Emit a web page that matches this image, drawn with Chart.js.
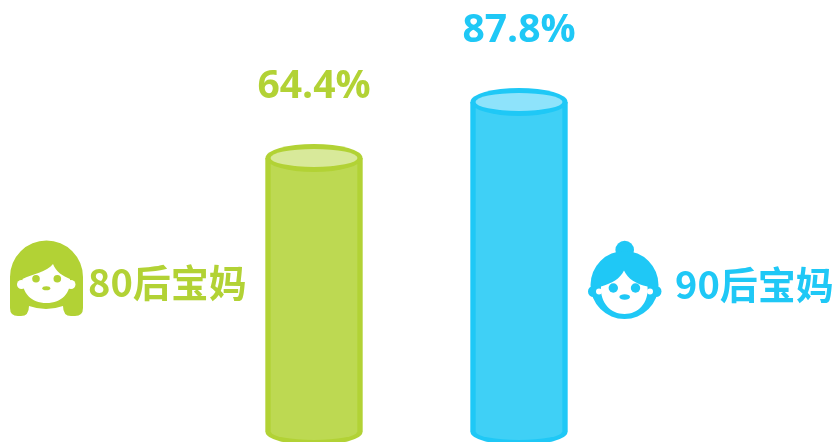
<!DOCTYPE html>
<html><head><meta charset="utf-8">
<style>html,body{margin:0;padding:0;background:#fff}#wrap{width:834px;height:442px}</style>
<script src="https://cdn.jsdelivr.net/npm/chart.js@4"></script>
</head><body><div id="wrap"><canvas id="c"></canvas></div>
<script>
const categories = ['80后宝妈', '90后宝妈'];
const shares = [64.4, 87.8];
const lineColors = ['#b2d235', '#1fc8f6'];
const bodyColors = ['#bdd952', '#3fd0f6'];
const lidColors = ['#d8e99a', '#8ee3fb'];
const VALUE_FONT = 'bold 39px "Open Sans", "Noto Sans", sans-serif';
const NAME_FONT = 'bold 38px "Noto Sans CJK SC", sans-serif';

function dot(ctx, x, y, r) {
  ctx.beginPath();
  ctx.arc(x, y, r, 0, Math.PI * 2);
  ctx.fill();
}

function oval(ctx, x, y, rx, ry) {
  ctx.beginPath();
  ctx.ellipse(x, y, rx, ry, 0, 0, Math.PI * 2);
  ctx.fill();
}

function drawGreenFace(ctx, c) {
  ctx.fillStyle = c;
  ctx.beginPath();
  ctx.moveTo(10, 277);
  ctx.arc(46.5, 277, 36.5, Math.PI, 0);
  ctx.lineTo(83, 308);
  ctx.quadraticCurveTo(83, 316, 75, 316);
  ctx.lineTo(71, 316);
  ctx.quadraticCurveTo(63, 316, 63, 306);
  ctx.quadraticCurveTo(46, 312, 29, 306);
  ctx.quadraticCurveTo(29, 316, 21, 316);
  ctx.lineTo(18, 316);
  ctx.quadraticCurveTo(10, 316, 10, 308);
  ctx.closePath();
  ctx.fill();
  ctx.fillStyle = '#fff';
  ctx.beginPath();
  ctx.moveTo(22.5, 279);
  ctx.bezierCurveTo(32, 274, 47, 272, 53, 264);
  ctx.bezierCurveTo(56, 272, 63, 276, 70, 279);
  ctx.bezierCurveTo(71, 293, 62, 303, 46.5, 303);
  ctx.bezierCurveTo(31, 303, 22, 293, 22.5, 279);
  ctx.closePath();
  ctx.fill();
  dot(ctx, 21.5, 284.5, 4.5);
  dot(ctx, 71, 284.5, 4.5);
  ctx.fillStyle = c;
  dot(ctx, 36, 278.7, 3.8);
  dot(ctx, 57.3, 278.7, 3.8);
  oval(ctx, 46.3, 288.3, 4, 2);
}

function drawBlueFace(ctx, c) {
  ctx.fillStyle = c;
  dot(ctx, 624.7, 250, 9.3);
  dot(ctx, 624.5, 285, 34);
  dot(ctx, 593.5, 291.5, 5.5);
  dot(ctx, 656, 291.5, 5.5);
  ctx.fillStyle = '#fff';
  ctx.beginPath();
  ctx.moveTo(601, 286.5);
  ctx.bezierCurveTo(612, 283, 620, 279, 624, 270.5);
  ctx.bezierCurveTo(628, 279, 636, 284, 647.5, 286.5);
  ctx.bezierCurveTo(649, 303, 638, 314, 624.5, 314);
  ctx.bezierCurveTo(611, 314, 600, 303, 601, 286.5);
  ctx.closePath();
  ctx.fill();
  dot(ctx, 599, 291.5, 3);
  dot(ctx, 650, 291.5, 3);
  ctx.fillStyle = c;
  dot(ctx, 613.3, 288, 4.7);
  dot(ctx, 635.5, 288, 4.7);
  oval(ctx, 624.7, 297, 5.3, 2.7);
}

// Adds the elliptical lid and base to each bar, then the labels and portraits.
const cylinderParts = {
  id: 'cylinderParts',
  afterDatasetsDraw(chart) {
    const ctx = chart.ctx;
    const bars = chart.getDatasetMeta(0).data;
    bars.forEach((bar, i) => {
      const rx = bar.width / 2, ry = 13;
      ctx.save();
      // base
      ctx.beginPath();
      ctx.ellipse(bar.x, bar.base, rx, ry, 0, 0, Math.PI);
      ctx.closePath();
      ctx.fillStyle = lineColors[i];
      ctx.fill();
      ctx.beginPath();
      ctx.ellipse(bar.x, bar.base, rx - 5.5, ry - 5, 0, 0, Math.PI);
      ctx.closePath();
      ctx.fillStyle = bodyColors[i];
      ctx.fill();
      // lid
      ctx.fillStyle = lineColors[i];
      oval(ctx, bar.x, bar.y, rx, ry + 1);
      ctx.fillStyle = lidColors[i];
      oval(ctx, bar.x, bar.y, rx - 5, ry - 4);
      // value above the lid
      ctx.font = VALUE_FONT;
      ctx.textAlign = 'center';
      ctx.textBaseline = 'alphabetic';
      ctx.fillStyle = lineColors[i];
      ctx.fillText(shares[i].toFixed(1) + '%', bar.x, bar.y - 59.5);
      ctx.restore();
    });
    ctx.save();
    ctx.font = NAME_FONT;
    ctx.textAlign = 'left';
    ctx.textBaseline = 'alphabetic';
    ctx.fillStyle = lineColors[0];
    ctx.fillText(categories[0], 88, 296.5);
    ctx.fillStyle = lineColors[1];
    ctx.fillText(categories[1], 675, 298.5);
    drawGreenFace(ctx, lineColors[0]);
    drawBlueFace(ctx, lineColors[1]);
    ctx.restore();
  }
};

// The axis is hidden; its range places the cylinder bases near the page bottom.
const AXIS_MIN = -54.3, AXIS_MAX = 130.4, CYLINDER_BASE = -50.1;

new Chart(document.getElementById('c'), {
  type: 'bar',
  data: {
    labels: categories,
    datasets: [{
      data: shares,
      base: CYLINDER_BASE,
      backgroundColor: bodyColors,
      borderColor: lineColors,
      borderWidth: { left: 5.5, right: 5.5, top: 0, bottom: 0 },
      borderSkipped: false,
      barThickness: 97
    }]
  },
  options: {
    responsive: true,
    maintainAspectRatio: false,
    animation: false,
    layout: { padding: { left: 211.5, right: 212.5, top: 0, bottom: 0 } },
    plugins: { legend: { display: false }, tooltip: { enabled: false } },
    scales: {
      x: { display: false },
      y: { display: false, min: AXIS_MIN, max: AXIS_MAX }
    }
  },
  plugins: [cylinderParts]
});
</script></body></html>
